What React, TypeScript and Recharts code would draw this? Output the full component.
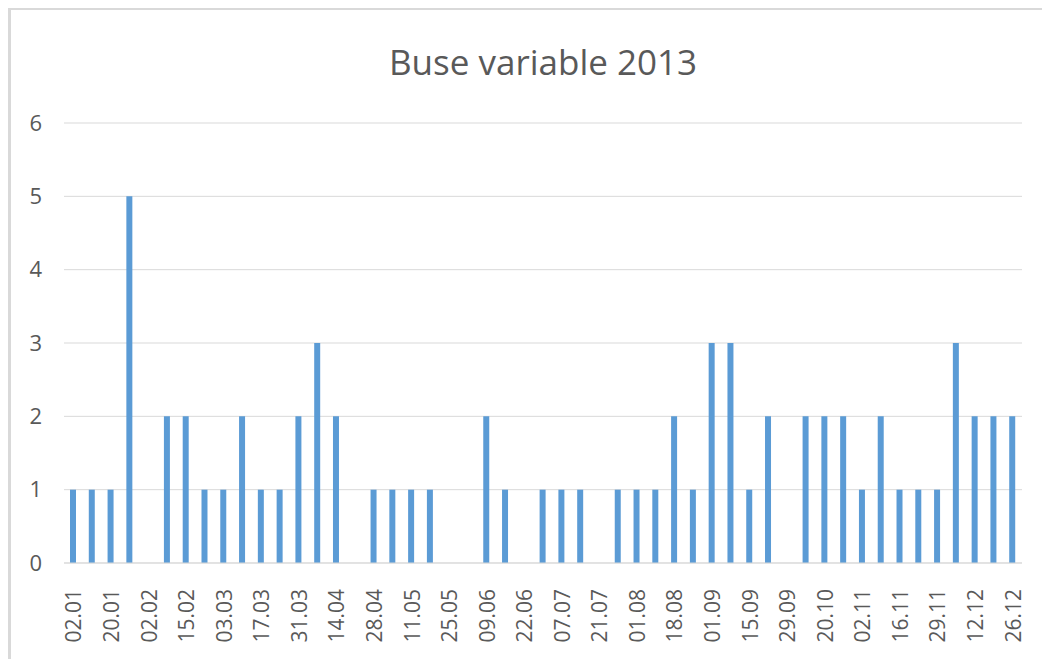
import React from "react";
import { Bar, BarChart, CartesianGrid, XAxis, YAxis } from "recharts";

const dates = [
  "02.01", "11.01", "20.01", "26.01", "02.02", "09.02", "15.02", "23.02", "03.03", "10.03",
  "17.03", "24.03", "31.03", "07.04", "14.04", "21.04", "28.04", "05.05", "11.05", "18.05",
  "25.05", "01.06", "09.06", "15.06", "22.06", "29.06", "07.07", "14.07", "21.07", "25.07",
  "01.08", "10.08", "18.08", "25.08", "01.09", "08.09", "15.09", "22.09", "29.09", "13.10",
  "20.10", "26.10", "02.11", "09.11", "16.11", "23.11", "29.11", "06.12", "12.12", "19.12",
  "26.12"
];

const counts = [
  1, 1, 1, 5, 0, 2, 2, 1, 1, 2,
  1, 1, 2, 3, 2, 0, 1, 1, 1, 1,
  0, 0, 2, 1, 0, 1, 1, 1, 0, 1,
  1, 1, 2, 1, 3, 3, 1, 2, 0, 2,
  2, 2, 1, 2, 1, 1, 1, 3, 2, 2,
  2
];

const yTicks = [0, 1, 2, 3, 4, 5, 6];

const data = dates.map((name, i) => ({ name, value: counts[i] }));

const textColor = "#595959";
const font = "'Open Sans', sans-serif";

// no scrollbars on the page
if (typeof document !== "undefined") {
  document.documentElement.style.overflow = "hidden";
  document.body.style.overflow = "hidden";
}

function DateTick({ x, y, payload }: any) {
  return (
    <text
      x={x}
      y={y + 18}
      transform={`rotate(-90, ${x}, ${y + 18})`}
      textAnchor="end"
      dominantBaseline="central"
      fill={textColor}
      fontSize={21}
      fontFamily={font}
    >
      {payload.value}
    </text>
  );
}

export default function App() {
  return (
    <div
      style={{
        position: "fixed",
        left: 8,
        top: 8,
        width: 1031,
        height: 649,
        borderTop: "2px solid #d9d9d9",
        borderLeft: "3px solid #d9d9d9",
        background: "#fff",
        overflow: "hidden"
      }}
    >
      <div
        style={{
          position: "absolute",
          left: 0,
          width: 1064,
          top: 29,
          textAlign: "center",
          fontFamily: font,
          fontSize: 35,
          color: textColor,
          lineHeight: "46px"
        }}
      >
        Buse variable 2013
      </div>
      <BarChart
        width={1031}
        height={649}
        data={data}
        margin={{ top: 113, right: 20, bottom: 0, left: 0 }}
      >
        <CartesianGrid stroke="#d9d9d9" vertical={false} />
        <XAxis
          dataKey="name"
          interval={1}
          tick={<DateTick />}
          tickLine={false}
          axisLine={{ stroke: "#d9d9d9" }}
          height={96}
        />
        <YAxis
          domain={[0, 6]}
          ticks={yTicks}
          width={53}
          tickLine={false}
          axisLine={false}
          tickSize={0}
          tickMargin={22}
          tick={{ fill: textColor, fontSize: 22, fontFamily: font }}
        />
        <Bar dataKey="value" fill="#5b9bd5" barSize={6} isAnimationActive={false} />
      </BarChart>
    </div>
  );
}
